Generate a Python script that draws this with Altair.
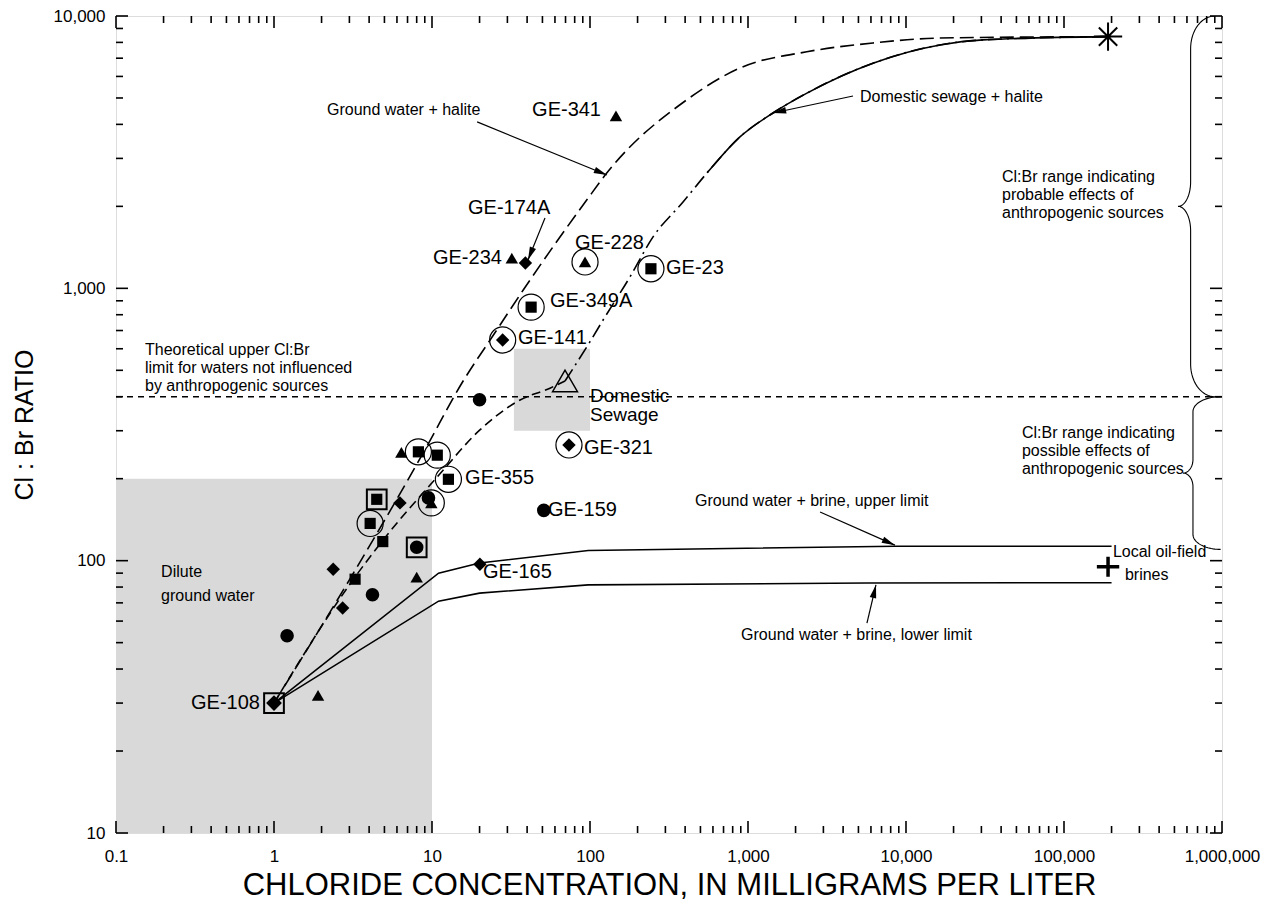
import altair as alt
import numpy as np
import pandas as pd

# Plot-area size in pixels (x: 7 decades, y: 3 decades)
W, H = 1106, 817
X_DOMAIN = [0.1, 1_000_000]
Y_DOMAIN = [10, 10_000]
PX_X, PX_Y = W / 7, H / 3  # pixels per decade
FONT = "Liberation Sans"
SHADE = "#d9d9d9"

# ---------------- sample analyses (chloride mg/L, Cl:Br ratio) ----------------
tri_cl = [146, 32, 93, 6.4, 8.0, 1.9, 9.9]
tri_ratio = [4300, 1290, 1250, 250, 87, 32, 163]
tri_mark = ["", "", "ring", "", "", "", "ring"]

dot_cl = [20, 51, 4.2, 1.21, 8.0, 9.5]
dot_ratio = [390, 153, 75, 53, 112, 170]
dot_mark = ["", "", "", "", "box", ""]

sq_cl = [243, 42.4, 8.2, 10.8, 12.7, 4.47, 4.06, 4.88, 3.26]
sq_ratio = [1180, 853, 251, 244, 199, 168, 137, 117.5, 85.5]
sq_mark = ["ring", "ring", "ring", "ring", "ring", "box", "ring", "", ""]

dia_cl = [39, 28, 73.6, 6.27, 2.37, 2.72, 20.1, 1.0]
dia_ratio = [1239, 646, 266, 163, 93, 67, 97, 30]
dia_mark = ["", "ring", "ring", "", "", "", "", "box"]

# ---------------- end members ----------------
sewage_cl, sewage_ratio = [69.5], [457]
halite_cl, halite_ratio = [190_000], [8400]
brine_cl, brine_ratio = [190_000], [95]

# ---------------- shaded reference fields ----------------
field_x = [0.1, 33]
field_x2 = [10, 100]
field_y = [10, 300]
field_y2 = [200, 600]

THEORETICAL_LIMIT = 400

# ---------------- mixing curves ----------------
gw_halite_cl = [1, 3.0, 9.25, 15.0, 25.7, 37.8, 95.3, 128, 409, 889, 2355, 6180, 16400, 190_000]
gw_halite_ratio = [30, 85, 262, 436, 703, 986, 2109, 2655, 4920, 6440, 7390, 7960, 8300, 8400]

gw_sewage_cl = [1, 3.16, 4.9, 10.8, 20.1, 36.1, 55.8, 69.5]
gw_sewage_ratio = [30, 85, 119, 203, 302, 389, 430, 457]

# sewage + halite: dash-dot up to the first SOLID_FROM points, solid beyond
sew_halite_cl = [69.5, 100, 121, 179, 250, 388, 551, 889, 1439, 2360, 6180, 16400, 30700, 190_000]
sew_halite_ratio = [457, 637, 765, 1101, 1542, 2075, 2655, 3597, 4405, 5210, 6710, 7830, 8170, 8400]
SOLID_FROM = 6

brine_upper_cl = [1, 11, 20, 97.5, 8500, 200_000]
brine_upper_ratio = [30, 90, 98, 109, 113, 113]
brine_lower_cl = [1, 11, 20, 97.5, 5660, 200_000]
brine_lower_ratio = [30, 71, 76, 81.5, 82.8, 83]

# ---------------- axis ticks ----------------
x_major = [0.1, 1, 10, 100, 1000, 10_000, 100_000, 1_000_000]
x_minor = [m * d for d in x_major[:-1] for m in range(2, 10)]
y_major = [10, 100, 1000, 10_000]
y_minor = [m * d for d in y_major[:-1] for m in range(2, 10)]

xs = alt.Scale(type="log", domain=X_DOMAIN, nice=False)
ys = alt.Scale(type="log", domain=Y_DOMAIN, nice=False)

x_axis = alt.Axis(
    values=x_major,
    labelExpr="datum.value < 1 ? format(datum.value, '.1f') : format(datum.value, ',.0f')",
    title="CHLORIDE CONCENTRATION, IN MILLIGRAMS PER LITER",
    grid=False, domain=False, ticks=False, tickSize=0,
    labelFlush=False, labelOverlap=False, labelPadding=15,
    labelFont=FONT, labelFontSize=17, labelColor="black",
    titleFont=FONT, titleFontSize=31, titleFontWeight="normal", titleColor="black",
    titlePadding=6,
)
y_axis = alt.Axis(
    values=y_major,
    labelExpr="format(datum.value, ',.0f')",
    title="Cl : Br RATIO",
    grid=False, domain=False, ticks=False, tickSize=0,
    labelFlush=False, labelOverlap=False, labelPadding=11,
    labelFont=FONT, labelFontSize=17, labelColor="black",
    titleFont=FONT, titleFontSize=25, titleFontWeight="normal", titleColor="black",
    titlePadding=16,
)


def X(f="x"):
    return alt.X(f"{f}:Q", scale=xs, axis=x_axis)


def Y(f="y"):
    return alt.Y(f"{f}:Q", scale=ys, axis=y_axis)


def curve(cl, ratio):
    return pd.DataFrame({"x": cl, "y": ratio, "i": range(len(cl))})


def line_layer(df, dash=None, width=1.6, smooth=False):
    kw = dict(color="black", strokeWidth=width, clip=True)
    if dash:
        kw["strokeDash"] = dash
    if smooth:
        kw["interpolate"] = "monotone"
    return alt.Chart(df).mark_line(**kw).encode(x=X(), y=Y(), order="i:Q")


def path_length(cl, ratio):
    px = np.log10(cl) * PX_X
    py = np.log10(ratio) * PX_Y
    return float(np.sum(np.hypot(np.diff(px), np.diff(py))))


# ---------------- layers ----------------
fields = pd.DataFrame({"x": field_x, "x2": field_x2, "y": field_y, "y2": field_y2})

shade = alt.Chart(fields).mark_rect(color=SHADE).encode(
    x=X(), x2="x2:Q", y=Y(), y2="y2:Q",
)

limit = alt.Chart(pd.DataFrame({"y": [THEORETICAL_LIMIT]})).mark_rule(
    color="black", strokeWidth=1.6, strokeDash=[6, 5]
).encode(y=Y(), x=alt.value(0), x2=alt.value(W))

sew_halite = curve(sew_halite_cl, sew_halite_ratio)
dashdot_len = path_length(sew_halite_cl[: SOLID_FROM + 1], sew_halite_ratio[: SOLID_FROM + 1])

curves = [
    line_layer(curve(gw_halite_cl, gw_halite_ratio), dash=[14, 6], smooth=True),
    line_layer(curve(gw_sewage_cl, gw_sewage_ratio), dash=[9, 5], smooth=True),
    line_layer(sew_halite, dash=[14, 5, 2, 5], smooth=True),
    line_layer(sew_halite, dash=[0, round(dashdot_len, 1), 5000], smooth=True),
    line_layer(curve(brine_upper_cl, brine_upper_ratio)),
    line_layer(curve(brine_lower_cl, brine_lower_ratio)),
]


# Curly braces along the right edge, built in log space between two ratios
def brace(lo, hi, x_end, x_mid, x_tip, r_end, r_tip, n=24):
    l0, l1 = np.log10(lo), np.log10(hi)
    lm = (l0 + l1) / 2
    xe, xm, xt = np.log10(x_end), np.log10(x_mid), np.log10(x_tip)
    a = np.linspace(0, np.pi / 2, n)
    b = a[::-1]
    px = np.concatenate([
        xe - (xe - xm) * np.sin(a), xt + (xm - xt) * np.cos(a),
        xt + (xm - xt) * np.cos(b), xe - (xe - xm) * np.sin(b),
    ])
    py = np.concatenate([
        l0 + r_end - r_end * np.cos(a), lm - r_tip + r_tip * np.sin(a),
        lm + r_tip - r_tip * np.sin(b), l1 - r_end + r_end * np.cos(b),
    ])
    return pd.DataFrame({"x": 10 ** px, "y": 10 ** py, "i": range(len(px))})


braces = [
    line_layer(brace(THEORETICAL_LIMIT, 10_000, 900_000, 633_000, 527_000, 0.12, 0.09), width=1.1),
    line_layer(brace(110, THEORETICAL_LIMIT, 980_000, 655_000, 566_000, 0.055, 0.05), width=1.1),
]

# Leader arrows: tail (x1, y1) -> head (x2, y2)
arrows = pd.DataFrame({
    "x1": [19.3, 51.9, 4620, 2857, 5660],
    "y1": [4084, 1812, 5083, 151, 59],
    "x2": [128, 40.5, 1439, 8510, 6457],
    "y2": [2607, 1271, 4405, 114, 81.5],
})
dx = (np.log10(arrows.x2) - np.log10(arrows.x1)) * PX_X
dy = -(np.log10(arrows.y2) - np.log10(arrows.y1)) * PX_Y
arrows["angle"] = np.degrees(np.arctan2(dx, -dy)) % 360

shafts = alt.Chart(arrows).mark_rule(color="black", strokeWidth=1.2).encode(
    x=X("x1"), y=Y("y1"), x2="x2:Q", y2="y2:Q"
)
heads = alt.Chart(arrows).mark_point(
    shape="M0,0L-0.55,2.2L0.55,2.2Z", filled=True, color="black", opacity=1, size=144
).encode(x=X("x2"), y=Y("y2"), angle=alt.Angle("angle:Q", scale=None))


def pts(cl, ratio, shape, mark, size):
    return pd.DataFrame({"x": cl, "y": ratio, "shape": shape, "mark": mark, "size": size})


samples = pd.concat([
    pts(tri_cl, tri_ratio, "triangle-up", tri_mark, 155),
    pts(dot_cl, dot_ratio, "circle", dot_mark, 185),
    pts(sq_cl, sq_ratio, "square", sq_mark, 125),
    pts(dia_cl, dia_ratio, "diamond", dia_mark, 180),
], ignore_index=True)
samples.loc[(samples["shape"] == "diamond") & (samples["x"] == 1.0), "size"] = 250

sample_marks = alt.Chart(samples).mark_point(filled=True, color="black", opacity=1).encode(
    x=X(), y=Y(),
    shape=alt.Shape("shape:N", scale=None),
    size=alt.Size("size:Q", scale=None),
)
rings = alt.Chart(samples).transform_filter("datum.mark == 'ring'").mark_point(
    shape="circle", size=680, filled=False, color="black", strokeWidth=1.2, opacity=1
).encode(x=X(), y=Y())
boxes = alt.Chart(samples).transform_filter("datum.mark == 'box'").mark_point(
    shape="square", size=390, filled=False, color="black", strokeWidth=2, opacity=1
).encode(x=X(), y=Y())

sewage = alt.Chart(pd.DataFrame({"x": sewage_cl, "y": sewage_ratio})).mark_point(
    shape="triangle-up", size=620, filled=False, color="black", strokeWidth=1.5, opacity=1
).encode(x=X(), y=Y())
halite = alt.Chart(pd.DataFrame({"x": halite_cl, "y": halite_ratio})).mark_point(
    shape="M-1,0L1,0M0,-1L0,1M-0.65,-0.65L0.65,0.65M-0.65,0.65L0.65,-0.65",
    size=800, filled=False, color="black", strokeWidth=2, opacity=1,
).encode(x=X(), y=Y())
brine = alt.Chart(pd.DataFrame({"x": brine_cl, "y": brine_ratio})).mark_point(
    shape="M-1,0L1,0M0,-0.9L0,0.9", size=500, filled=False, color="black", strokeWidth=3.5, opacity=1
).encode(x=X(), y=Y())

# ---------------- text (multi-line blocks are anchored at their first line) ----------------
notes = pd.DataFrame({
    "t": [
        "Ground water + halite",
        "Theoretical upper Cl:Br\nlimit for waters not influenced\nby anthropogenic sources",
        "Domestic sewage + halite",
        "Cl:Br range indicating\nprobable effects of\nanthropogenic sources",
        "Cl:Br range indicating\npossible effects of\nanthropogenic sources",
        "Local oil-field",
        "brines",
        "Ground water + brine, upper limit",
        "Ground water + brine, lower limit",
    ],
    "x": [2.165, 0.1526, 5117, 40500, 54200, 204_000, 243_000, 462, 904],
    "y": [4520, 594, 5050, 2565, 294, 108, 88.5, 165.6, 53.3],
})
dilute = pd.DataFrame({"t": ["Dilute\nground water"], "x": [0.193], "y": [90.8]})
sewage_label = pd.DataFrame({"t": ["Domestic\nSewage"], "x": [100], "y": [402]})

labels_left = pd.DataFrame({
    "t": ["GE-174A", "GE-228", "GE-23", "GE-349A", "GE-141", "GE-321", "GE-355", "GE-159", "GE-165"],
    "x": [16.9, 80.4, 303, 55.8, 35, 91.6, 16.2, 54.2, 21],
    "y": [1972, 1467, 1188, 898, 657, 259, 201, 153, 90.8],
})
labels_right = pd.DataFrame({
    "t": ["GE-341", "GE-234", "GE-108"],
    "x": [117.4, 27.7, 0.815],
    "y": [4520, 1291, 30],
})


def text_layer(df, size, align="left", line_height=None):
    kw = dict(font=FONT, fontSize=size, align=align, baseline="middle", color="black", lineBreak="\n")
    if line_height:
        kw["lineHeight"] = line_height
    return alt.Chart(df).mark_text(**kw).encode(x=X(), y=Y(), text="t:N")


texts = [
    text_layer(notes, 16, line_height=18),
    text_layer(dilute, 16, line_height=24),
    text_layer(sewage_label, 19, line_height=19),
    text_layer(labels_left, 20),
    text_layer(labels_right, 20, align="right"),
]


# ---------------- inward ticks on all four sides ----------------
def xticks(vals, length):
    df = pd.DataFrame({"v": vals})
    bottom = alt.Chart(df).mark_rule(color="black", strokeWidth=1.6).encode(
        x=X("v"), y=alt.value(H), y2=alt.value(H - length))
    top = alt.Chart(df).mark_rule(color="black", strokeWidth=1.6).encode(
        x=X("v"), y=alt.value(0), y2=alt.value(length))
    return [bottom, top]


def yticks(vals, length):
    df = pd.DataFrame({"v": vals})
    left = alt.Chart(df).mark_rule(color="black", strokeWidth=1.6).encode(
        y=Y("v"), x=alt.value(0), x2=alt.value(length))
    right = alt.Chart(df).mark_rule(color="black", strokeWidth=1.6).encode(
        y=Y("v"), x=alt.value(W), x2=alt.value(W - length))
    return [left, right]


ticks = xticks(x_major, 12) + xticks(x_minor, 7) + yticks(y_major, 12) + yticks(y_minor, 7)

chart = alt.layer(
    shade, limit, *curves, *braces, shafts, heads,
    sample_marks, rings, boxes, sewage, halite, brine,
    *texts, *ticks,
).properties(
    width=W, height=H,
    autosize=alt.AutoSizeParams(type="none"),
    padding={"left": 116, "top": 16, "right": 54, "bottom": 67},
).configure_view(
    stroke="black", strokeWidth=2.5
).configure(background="white")

chart.save("out.html", embed_options={"renderer": "svg", "actions": False})
